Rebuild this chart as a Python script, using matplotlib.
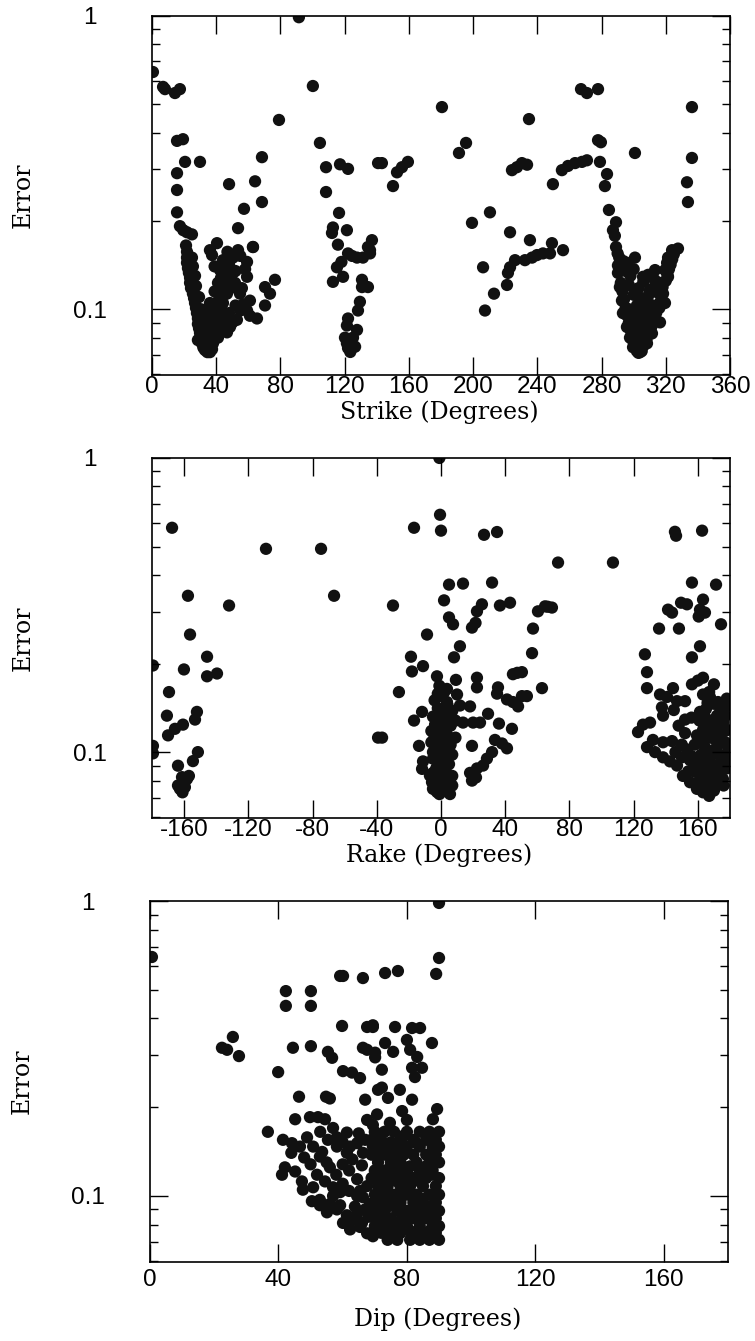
import numpy as np
import matplotlib.pyplot as plt
from matplotlib.ticker import FixedLocator, NullFormatter

plt.rcParams['axes.unicode_minus'] = False

# strike (deg), error
strike_pts = [
    (0.6, 0.644), (6.9, 0.573), (8.1, 0.563), (14.3, 0.546), (17.4, 0.563), (91.5, 0.99), (100.2, 0.577), (79.1, 0.442),
    (15.6, 0.375), (19.3, 0.380), (104.6, 0.369), (20.6, 0.318), (29.9, 0.318), (15.6, 0.291), (15.6, 0.255), (15.6, 0.214),
    (68.5, 0.330), (48.0, 0.267), (64.2, 0.273), (68.5, 0.232), (57.3, 0.220), (53.6, 0.189), (62.9, 0.163),
    (108.4, 0.305), (117.1, 0.312), (122.1, 0.301), (108.4, 0.251), (140.8, 0.315),
    (17.4, 0.192), (19.5, 0.186), (21.8, 0.183), (24.9, 0.180), (21.2, 0.165), (21.8, 0.157), (21.8, 0.150), (21.8, 0.144),
    (22.4, 0.138), (23.0, 0.133), (23.7, 0.128), (23.7, 0.123), (24.3, 0.118), (25.5, 0.113), (26.2, 0.109), (26.8, 0.105),
    (27.4, 0.101), (28.0, 0.097), (28.6, 0.093), (28.6, 0.089), (29.3, 0.086), (29.9, 0.083), (30.5, 0.080), (31.1, 0.0765),
    (32.0, 0.074), (33.0, 0.0726), (34.5, 0.0714), (36.1, 0.0714), (37.4, 0.073), (38.0, 0.0765), (39.5, 0.080),
    (24.9, 0.150), (25.5, 0.140), (26.8, 0.130), (27.4, 0.120), (29.3, 0.110), (30.5, 0.100), (31.7, 0.090), (33.0, 0.084),
    (34.5, 0.078), (35.5, 0.075),
    (40.5, 0.0827), (40.5, 0.0894), (37.4, 0.097), (36.1, 0.105), (40.5, 0.105), (44.2, 0.105), (46.7, 0.113), (41.1, 0.123),
    (47.3, 0.129), (50.4, 0.133), (42.4, 0.136), (44.2, 0.147), (50.4, 0.150), (53.6, 0.159), (59.2, 0.145), (59.2, 0.129),
    (51.7, 0.123), (54.8, 0.113), (61.0, 0.107), (59.2, 0.099), (65.4, 0.093), (61.0, 0.095), (52.9, 0.092), (48.6, 0.087),
    (46.7, 0.0834), (41.1, 0.080), (37.4, 0.081), (36.1, 0.159), (40.5, 0.168), (37.4, 0.153), (62.9, 0.163), (70.4, 0.119),
    (76.6, 0.126), (73.5, 0.113), (70.4, 0.103), (33.0, 0.099), (34.3, 0.094), (31.7, 0.085), (28.6, 0.0785),
    (33.0, 0.078), (35.0, 0.082), (37.0, 0.086), (39.0, 0.090), (41.0, 0.094), (42.0, 0.098), (43.0, 0.101), (38.0, 0.100),
    (36.0, 0.092), (34.0, 0.088), (38.0, 0.078), (42.0, 0.110), (44.0, 0.115), (45.0, 0.121), (43.0, 0.128), (46.0, 0.138),
    (48.0, 0.142), (49.0, 0.118), (52.0, 0.103), (55.0, 0.099), (57.0, 0.104), (56.0, 0.118), (58.0, 0.137), (55.0, 0.152),
    (48.0, 0.097), (45.0, 0.092), (50.0, 0.090), (44.0, 0.087), (52.0, 0.135), (47.0, 0.157), (39.0, 0.140), (39.0, 0.115),
    (42.0, 0.120),
    (116.5, 0.213), (112.7, 0.190), (112.1, 0.182), (121.4, 0.186), (115.8, 0.166), (122.1, 0.155), (127.7, 0.150), (131.4, 0.150),
    (134.5, 0.163), (137.0, 0.172), (135.8, 0.155), (115.2, 0.139), (119.0, 0.129), (112.7, 0.124), (130.8, 0.126), (130.8, 0.119),
    (134.5, 0.119), (129.5, 0.106), (128.3, 0.099), (122.1, 0.093), (121.4, 0.088), (127.7, 0.085), (120.2, 0.080), (125.2, 0.080),
    (121.4, 0.0765), (122.1, 0.0737), (124.0, 0.0765), (135.8, 0.159), (124.6, 0.152), (118.0, 0.145), (126.5, 0.0745), (123.5, 0.0715),
    (143.2, 0.315), (150.1, 0.263), (152.6, 0.293), (155.7, 0.305), (159.4, 0.318), (180.6, 0.489), (191.2, 0.341), (195.6, 0.369),
    (199.3, 0.197), (210.5, 0.214), (206.2, 0.139), (213.0, 0.113), (207.4, 0.099), (223.0, 0.183), (221.1, 0.121), (221.7, 0.133),
    (223.0, 0.139), (226.1, 0.147), (232.3, 0.147), (235.4, 0.172), (236.7, 0.150), (239.8, 0.153), (243.5, 0.155), (249.1, 0.168),
    (247.9, 0.155), (256.0, 0.159), (234.8, 0.445), (224.2, 0.298), (227.3, 0.305), (230.4, 0.315), (233.6, 0.311), (249.7, 0.267),
    (255.3, 0.298), (259.1, 0.308), (263.5, 0.315), (267.8, 0.318), (270.9, 0.322), (267.2, 0.563), (270.9, 0.546), (277.8, 0.563),
    (277.8, 0.377), (279.6, 0.371), (279.0, 0.318), (283.4, 0.289), (282.1, 0.263), (284.6, 0.218), (289.0, 0.198), (287.1, 0.186),
    (288.3, 0.178), (289.0, 0.163), (300.8, 0.341), (336.3, 0.489), (336.3, 0.328), (333.2, 0.271), (333.8, 0.232),
    (327.6, 0.161), (323.9, 0.159), (321.4, 0.150), (320.8, 0.144), (319.5, 0.136), (313.3, 0.136), (321.4, 0.129), (300.8, 0.150),
    (295.8, 0.144), (305.8, 0.129), (316.4, 0.123), (318.3, 0.113), (319.5, 0.105), (316.4, 0.0902), (311.4, 0.0827), (308.3, 0.0765),
    (304.0, 0.0714), (299.6, 0.0742), (297.7, 0.080), (295.8, 0.087), (293.3, 0.097), (292.7, 0.107), (291.4, 0.119), (290.2, 0.133),
    (290.2, 0.141), (293.3, 0.141), (302.0, 0.113), (305.8, 0.107), (310.0, 0.116), (302.0, 0.094), (308.3, 0.092), (304.0, 0.085),
    (313.3, 0.099),
    (292, 0.123), (293, 0.115), (294, 0.108), (295, 0.101), (296, 0.095), (297, 0.090), (298, 0.085), (299, 0.081), (300, 0.077),
    (301, 0.074), (302, 0.072), (303, 0.071), (305, 0.072), (306, 0.075), (308, 0.079), (309, 0.083), (311, 0.087), (313, 0.092),
    (314, 0.097), (316, 0.101), (317, 0.107), (318, 0.119), (320, 0.125), (321, 0.131), (322, 0.137), (323, 0.142), (324, 0.148),
    (325, 0.154),
    (297, 0.100), (299, 0.093), (301, 0.088), (303, 0.083), (305, 0.079), (303, 0.076), (300, 0.098), (302, 0.103), (304, 0.095),
    (306, 0.090), (308, 0.086), (310, 0.094), (312, 0.103), (307, 0.101), (305, 0.108), (309, 0.111), (311, 0.117), (300, 0.112),
    (297, 0.121), (298, 0.130), (295, 0.135), (303, 0.118), (306, 0.124), (313, 0.126), (309, 0.131), (300, 0.137), (315, 0.114),
    (291.0, 0.150), (293.5, 0.146), (296, 0.139), (290, 0.155),
]

# rake (deg), error
rake_pts = [
    (-167.5, 0.579), (-109.0, 0.491), (-74.7, 0.491), (-66.6, 0.340), (-157.6, 0.340), (-132.0, 0.315), (-156.3, 0.251),
    (-145.7, 0.211), (-179.4, 0.197), (-160.1, 0.191), (-145.7, 0.181), (-139.5, 0.185), (-169.4, 0.160), (-170.7, 0.133),
    (-152.0, 0.137), (-153.2, 0.129), (-160.7, 0.124), (-165.7, 0.120), (-170.0, 0.114), (-179.4, 0.105), (-179.4, 0.099),
    (-151.4, 0.100), (-154.5, 0.0932), (-163.8, 0.0899), (-161.3, 0.0822), (-158.2, 0.081), (-163.8, 0.077), (-162.6, 0.075),
    (-160.0, 0.078), (-157.0, 0.083), (-159.5, 0.076), (-161.0, 0.073), (-39.2, 0.112),
    (-0.6, 0.641), (0.0, 0.566), (-16.8, 0.579), (26.8, 0.548), (34.9, 0.560), (72.9, 0.441), (107.1, 0.441), (-1.0, 1.0),
    (5.0, 0.371), (13.7, 0.374), (31.8, 0.377), (1.9, 0.328), (-29.9, 0.315), (25.5, 0.318), (22.4, 0.301), (36.7, 0.315),
    (43.0, 0.322), (60.4, 0.301), (64.8, 0.313), (69.1, 0.310), (66.5, 0.312), (5.0, 0.287), (7.5, 0.272), (19.3, 0.265),
    (21.5, 0.275), (57.3, 0.263), (-8.7, 0.251), (11.8, 0.229), (8.1, 0.210), (56.7, 0.217), (-18.7, 0.211), (-18.1, 0.188),
    (-11.2, 0.196), (-2.5, 0.181), (9.3, 0.176), (22.4, 0.179), (22.4, 0.166), (44.8, 0.184), (50.4, 0.187), (47.5, 0.186),
    (62.9, 0.165), (-26.2, 0.160), (3.7, 0.164), (10.0, 0.157), (35.5, 0.166), (34.9, 0.158), (41.1, 0.151), (44.8, 0.148),
    (50.4, 0.155), (53.5, 0.155), (48.0, 0.143), (18.1, 0.143), (11.8, 0.144), (3.7, 0.148), (0.6, 0.140), (-11.8, 0.137),
    (-16.8, 0.128), (13.7, 0.126), (20.0, 0.126), (24.3, 0.126), (29.3, 0.135), (36.1, 0.125), (44.2, 0.120), (-3.7, 0.124),
    (-36.7, 0.112), (-13.7, 0.105), (19.3, 0.105), (33.6, 0.110), (38.0, 0.107), (41.1, 0.103), (31.8, 0.100), (28.6, 0.095),
    (-5.0, 0.100), (-11.2, 0.093), (-11.8, 0.0877), (26.2, 0.090), (22.4, 0.088), (18.1, 0.085), (19.3, 0.080), (21.8, 0.082),
    (-6.9, 0.0832), (-5.6, 0.079), (-2.5, 0.0732), (5.6, 0.072), (1.9, 0.076),
    (-5, 0.075), (-1, 0.072), (3, 0.074), (7, 0.077), (-5, 0.085), (-1, 0.082), (3, 0.086), (7, 0.083),
    (-5, 0.095), (-1, 0.092), (3, 0.096), (7, 0.098), (-6, 0.108), (-2, 0.104), (2, 0.110), (6, 0.106), (9, 0.112),
    (-6, 0.118), (-2, 0.120), (2, 0.117), (6, 0.123), (9, 0.128), (-5, 0.132), (-1, 0.134), (3, 0.130), (7, 0.138),
    (-4, 0.150), (0, 0.155), (4, 0.145), (-1, 0.168),
    (-3, 0.078), (1, 0.079), (5, 0.081), (-3, 0.088), (1, 0.089), (5, 0.091), (-3, 0.099), (1, 0.101), (5, 0.103),
    (-4, 0.113), (0, 0.113), (4, 0.114), (-3, 0.126), (1, 0.124), (4, 0.127), (-2, 0.141), (2, 0.140), (-2, 0.158), (2, 0.160),
    (145.7, 0.561), (146.4, 0.544), (162.6, 0.566), (156.3, 0.377), (171.3, 0.371), (141.4, 0.305), (143.9, 0.298), (149.5, 0.322),
    (153.2, 0.318), (163.2, 0.330), (161.3, 0.305), (164.4, 0.298), (160.5, 0.289), (135.8, 0.263), (148.2, 0.263), (174.4, 0.272),
    (161.3, 0.229), (156.3, 0.210), (127.0, 0.215), (128.3, 0.187), (128.3, 0.165), (144.5, 0.165), (156.3, 0.170), (163.2, 0.179),
    (160.0, 0.175), (136.4, 0.157), (140.8, 0.154), (147.0, 0.149), (152.0, 0.149), (137.6, 0.142), (138.3, 0.133), (163.2, 0.157),
    (167.5, 0.154), (172.5, 0.148), (178.1, 0.143), (161.3, 0.137), (171.9, 0.133), (175.6, 0.126), (178.1, 0.119), (163.2, 0.126),
    (122.7, 0.117), (125.8, 0.124), (130.2, 0.126), (128.3, 0.104), (132.0, 0.110), (138.3, 0.108), (143.9, 0.109), (133.3, 0.100),
    (138.3, 0.096), (142.6, 0.093), (147.0, 0.090), (152.0, 0.116), (153.2, 0.102), (159.4, 0.114), (163.2, 0.119), (164.4, 0.104),
    (167.5, 0.097), (171.9, 0.104), (175.6, 0.095), (178.1, 0.099), (150.7, 0.083), (155.1, 0.079), (159.4, 0.075), (163.2, 0.073),
    (165.7, 0.076), (169.4, 0.079), (173.8, 0.084), (161.3, 0.081), (157.6, 0.086), (175.6, 0.081),
    (160, 0.090), (164, 0.088), (168, 0.092), (172, 0.089), (165, 0.095), (170, 0.111), (174, 0.115), (177, 0.108),
    (166, 0.112), (162, 0.098), (168, 0.083), (164, 0.078), (167, 0.071), (170, 0.074), (172, 0.122), (176, 0.130),
    (168, 0.128), (165, 0.140), (170, 0.146), (174, 0.139), (178, 0.152), (167, 0.160), (170, 0.170),
    (148, 0.123), (152, 0.129), (156, 0.131), (145, 0.139), (150, 0.106), (146, 0.100), (155, 0.094), (158, 0.106), (150, 0.096),
    (162, 0.085), (166, 0.082), (170, 0.087), (174, 0.091), (178, 0.088), (176, 0.077), (172, 0.079), (161, 0.093),
    (169, 0.101), (173, 0.098), (177, 0.118), (164, 0.110), (168, 0.118), (172, 0.108), (175, 0.141), (177, 0.133),
    (161, 0.128), (164, 0.133), (166, 0.147), (179, 0.104), (179, 0.092), (156, 0.097), (158, 0.090), (154, 0.086),
]

# dip (deg), error
dip_pts = [
    (0.6, 0.646), (59.2, 0.557), (60.1, 0.557), (66.3, 0.548), (42.3, 0.495), (50.1, 0.495), (42.3, 0.441), (50.1, 0.441),
    (59.8, 0.377), (67.6, 0.374), (69.4, 0.379), (25.8, 0.346), (22.4, 0.318), (24.0, 0.313), (27.7, 0.298), (44.5, 0.318),
    (50.1, 0.322), (55.4, 0.308), (56.7, 0.294), (66.3, 0.318), (67.6, 0.313), (70.1, 0.295), (39.9, 0.263), (60.1, 0.265),
    (62.9, 0.262), (65.4, 0.251), (71.0, 0.229), (46.4, 0.217), (54.8, 0.217), (56.0, 0.214), (67.0, 0.212), (45.2, 0.182),
    (49.8, 0.185), (52.3, 0.185), (54.5, 0.182), (67.6, 0.181), (69.4, 0.174),
    (36.7, 0.165), (41.4, 0.155), (44.2, 0.151), (46.7, 0.147), (48.9, 0.158), (50.8, 0.147), (53.6, 0.141), (55.4, 0.155),
    (58.2, 0.158), (61.3, 0.164), (62.3, 0.147), (64.5, 0.151), (66.3, 0.140), (69.4, 0.147), (58.2, 0.147), (61.3, 0.140),
    (52.9, 0.136), (42.0, 0.125), (41.1, 0.118), (45.2, 0.121), (47.3, 0.112), (50.8, 0.107), (54.5, 0.112), (57.0, 0.107),
    (59.2, 0.103), (64.5, 0.114), (65.4, 0.104), (67.6, 0.108), (47.6, 0.105), (50.4, 0.096), (52.9, 0.093), (56.1, 0.094),
    (58.2, 0.090), (61.3, 0.086), (63.2, 0.083), (65.4, 0.0785), (67.6, 0.0747), (69.4, 0.073), (63.8, 0.092), (66.3, 0.099),
    (68.5, 0.094), (64.5, 0.100), (52.9, 0.097), (55.1, 0.088), (59.2, 0.093), (60.1, 0.081), (62.3, 0.077), (64.5, 0.087),
    (56.0, 0.125), (58.0, 0.118), (60.0, 0.128), (62.0, 0.122), (63.0, 0.133), (66.0, 0.127), (60.0, 0.110), (57.0, 0.100),
    (62.0, 0.104), (55.0, 0.130), (50.0, 0.128), (48.0, 0.135), (44.0, 0.140), (52.0, 0.118), (53.0, 0.165), (57.0, 0.170),
    (60.0, 0.152), (65.0, 0.163), (67.0, 0.155), (68.0, 0.085), (66.0, 0.081), (67.0, 0.090),
    (90.0, 0.985), (90.0, 0.641), (89.1, 0.566), (73.2, 0.570), (77.2, 0.579), (69.4, 0.374), (76.3, 0.374), (81.6, 0.371),
    (84.1, 0.371), (73.2, 0.330), (80.0, 0.338), (87.8, 0.330), (75.7, 0.308), (81.0, 0.313), (83.2, 0.296), (70.1, 0.306),
    (72.2, 0.268), (81.6, 0.272), (84.7, 0.272), (82.5, 0.253), (72.2, 0.233), (77.8, 0.229), (74.1, 0.215), (81.6, 0.212),
    (89.4, 0.197), (88.1, 0.182), (78.5, 0.194), (70.7, 0.189), (74.7, 0.177), (80.0, 0.181),
    (70, 0.165), (73, 0.165), (76, 0.165), (80, 0.165), (84, 0.165), (87, 0.165), (90, 0.165),
    (69, 0.155), (72, 0.155), (78, 0.155), (82, 0.155), (86, 0.155), (89, 0.155),
    (71, 0.147), (74, 0.147), (77, 0.147), (80, 0.147), (84, 0.147), (88, 0.147), (90, 0.147),
    (69, 0.138), (73, 0.138), (76, 0.138), (79, 0.138), (82, 0.138), (86, 0.138), (89, 0.138),
    (71, 0.130), (75, 0.130), (78, 0.130), (83, 0.130), (87, 0.130), (90, 0.130),
    (70, 0.122), (73, 0.122), (77, 0.122), (80, 0.122), (84, 0.122), (88, 0.122),
    (69, 0.115), (72, 0.115), (75, 0.115), (79, 0.115), (82, 0.115), (86, 0.115), (90, 0.115),
    (71, 0.108), (74, 0.108), (78, 0.108), (81, 0.108), (85, 0.108), (89, 0.108),
    (70, 0.101), (73, 0.101), (76, 0.101), (80, 0.101), (83, 0.101), (87, 0.101), (90, 0.101),
    (72, 0.095), (75, 0.095), (78, 0.095), (82, 0.095), (85, 0.095), (89, 0.095),
    (70, 0.089), (73, 0.089), (77, 0.089), (80, 0.089), (84, 0.089), (87, 0.089), (90, 0.089),
    (71, 0.084), (75, 0.084), (79, 0.084), (82, 0.084), (86, 0.084), (89, 0.084),
    (70, 0.079), (73, 0.079), (76, 0.079), (80, 0.079), (84, 0.079), (88, 0.079), (90, 0.079),
    (72, 0.075), (75, 0.075), (78, 0.075), (82, 0.075), (85, 0.075), (89, 0.075),
    (74, 0.071), (77, 0.071), (81, 0.071), (84, 0.071), (87, 0.071),
    (71.5, 0.160), (75, 0.152), (79, 0.160), (83, 0.151), (87, 0.160), (71, 0.141), (75, 0.126), (81, 0.126),
    (86, 0.126), (72, 0.111), (77, 0.112), (84, 0.112), (88, 0.118), (71, 0.098), (78, 0.099), (85, 0.098),
    (74, 0.092), (82, 0.090), (88, 0.093), (73, 0.082), (78, 0.082), (84, 0.083), (77, 0.077), (81, 0.076),
    (87, 0.076), (90, 0.071),
]

panels = [
    (strike_pts, 'Strike (Degrees)', (0, 360), list(range(0, 361, 40))),
    (rake_pts, 'Rake (Degrees)', (-180, 180), list(range(-160, 161, 40))),
    (dip_pts, 'Dip (Degrees)', (0, 180), list(range(0, 161, 40))),
]
# axes boxes (left, bottom, width, height) in figure fraction
boxes = [(0.2013, 0.7204, 0.7656, 0.2677),
         (0.2013, 0.3900, 0.7656, 0.2685),
         (0.1987, 0.0589, 0.7656, 0.2692)]
xlab_y = [-0.104, -0.104, -0.158]
xpad = [0.5, 0.5, 5.0]

minor = [0.06, 0.07, 0.08, 0.09, 0.2, 0.3, 0.4, 0.5, 0.6, 0.7, 0.8, 0.9]
tickfont = dict(family='Liberation Sans', size=17.5)
labfont = dict(family='DejaVu Serif', size=17)

fig = plt.figure(figsize=(7.55, 13.41), dpi=100)
for i, (pts, xlabel, xlim, xticks) in enumerate(panels):
    ax = fig.add_axes(boxes[i])
    x, y = np.array(pts).T
    ax.scatter(x, y, s=78, color='#111111', edgecolors='none')
    ax.set_yscale('log')
    ax.set_ylim(0.0597, 1)
    ax.set_xlim(*xlim)
    ax.set_xticks(xticks)
    ax.set_xticklabels([str(t) for t in xticks], fontdict=tickfont)
    ax.set_yticks([0.1, 1])
    ax.set_yticklabels(['0.1', '1'], fontdict=tickfont)
    ax.yaxis.set_minor_locator(FixedLocator(minor))
    ax.yaxis.set_minor_formatter(NullFormatter())
    ax.xaxis.set_minor_locator(FixedLocator([]))
    ax.tick_params(which='both', direction='in', top=True, right=True, width=1.0, color='black')
    ax.tick_params(which='major', length=13)
    ax.tick_params(which='minor', length=6)
    ax.tick_params(axis='y', which='major', pad=45)
    ax.tick_params(axis='x', which='major', pad=xpad[i])
    plt.setp(ax.get_yticklabels(), ha='center')
    for s in ax.spines.values():
        s.set_linewidth(1.2)
    ax.set_xlabel(xlabel, fontdict=labfont, va='center')
    ax.xaxis.set_label_coords(0.497, xlab_y[i])
    ax.set_ylabel('Error', fontdict=labfont, va='center')
    ax.yaxis.set_label_coords(-0.222, 0.5)

fig.savefig('out.png', dpi=100)
